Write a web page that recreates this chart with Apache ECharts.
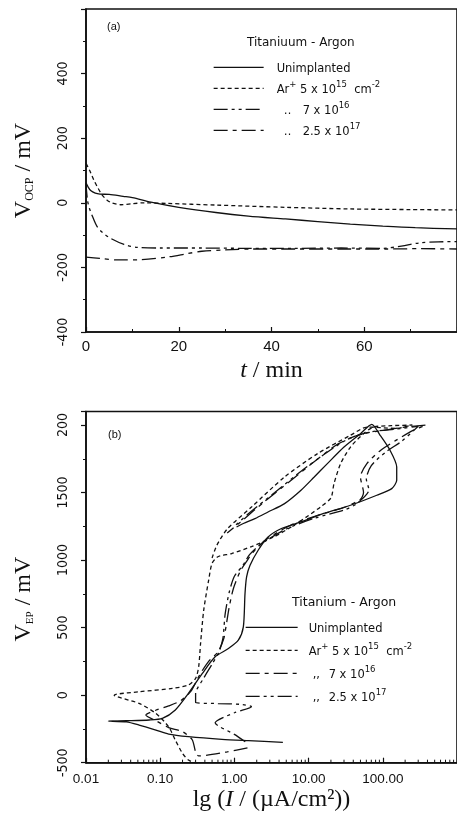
<!DOCTYPE html>
<html><head><meta charset="utf-8">
<script src="https://cdn.jsdelivr.net/npm/echarts@6/dist/echarts.min.js"></script>
<style>html,body{margin:0;padding:0;background:#fff;}#c{width:457px;height:826px;}</style>
</head><body><div id="c"></div>
<script>
// ---------- Panel (a): open-circuit potential vs time ----------
const aUnimplanted = [[0,62],[0.5,48],[1,38],[2,30],[3,27],[5,26],[8,20],[10,16],[14,2],[20,-14],[28,-30],[35,-41],[43,-50],[50,-58],[57,-66],[64,-72],[71,-77],[80,-81]];
const aAr5e15 = [[0,122],[0.8,100],[1.7,70],[2.6,45],[3.5,24],[4.5,9],[5.5,0],[7.5,-6],[10,-3],[12.5,0],[17.6,-2],[28,-7],[43,-14],[57,-19],[70,-21],[80,-22]];
const aAr7e16 = [[0,60],[0.3,10],[0.7,-15],[1.2,-35],[2.4,-74],[3.8,-95],[5.3,-110],[8.2,-129],[11,-138],[16,-140],[25,-140],[35,-141],[45,-141],[55,-140],[64,-141],[68,-134],[72,-124],[76,-121],[80,-120]];
const aAr25e17 = [[0,-168],[3,-172],[7,-177],[12,-176],[17.5,-168],[22,-157],[25,-150],[30,-146],[36,-143],[45,-143],[55,-143],[65,-143],[72,-142],[80,-143]];

// ---------- Panel (b): cyclic polarisation, [I (uA/cm2), V (mV)] ----------
const bUnimplanted = [[4.5,-349],[1.54,-337],[0.68,-327],[0.24,-307],[0.13,-288],[0.0875,-258],[0.052,-221],[0.035,-198],[0.02,-192],[0.035,-189],[0.071,-184],[0.107,-172],[0.16,-110],[0.24,13],[0.37,161],[0.55,284],[0.83,345],[1.13,407],[1.32,506],[1.39,752],[1.46,875],[1.62,960],[2.09,1073],[2.84,1171],[4.3,1234],[7.9,1283],[16,1345],[36.7,1406],[83,1480],[132,1529],[154,1591],[154,1689],[125,1813],[92,1924],[71,2005],[50,1936],[30,1837],[17.9,1714],[11.9,1615],[7.9,1517],[4.74,1418],[2.84,1356],[1.89,1307],[1.32,1271],[1.07,1245]];
const bAr5e15 = [[2.2,-540],[1.3,-515],[0.8,-530],[0.5,-520],[0.33,-510],[0.24,-480],[0.2,-431],[0.16,-333],[0.13,-234],[0.0875,-135],[0.052,-61],[0.024,0],[0.052,25],[0.146,50],[0.24,75],[0.30,124],[0.33,210],[0.35,383],[0.386,630],[0.45,852],[0.5,975],[0.6,1025],[0.92,1048],[1.7,1100],[3.5,1175],[6,1250],[10,1330],[15,1400],[20,1460],[22,1566],[27,1714],[36.7,1837],[55,1936],[75,1985],[130,1995],[250,2000],[150,1975],[62,1985],[36.7,1924],[13.2,1788],[4.74,1615],[1.7,1393],[0.8,1230],[0.58,1110],[0.5,1015]];
const bAr7e16 = [[1.5,-390],[0.8,-420],[0.33,-450],[0.3,-420],[0.27,-330],[0.2,-270],[0.13,-240],[0.088,-190],[0.064,-147],[0.088,-110],[0.13,-80],[0.19,-40],[0.26,30],[0.34,150],[0.45,250],[0.6,320],[0.72,420],[0.77,506],[0.85,650],[0.97,790],[1.2,918],[1.5,1000],[1.8,1060],[2.6,1147],[5.8,1260],[13,1330],[30,1390],[50,1450],[55,1500],[50,1615],[61,1714],[93,1812],[150,1886],[256,1960],[386,2000],[200,1985],[100,1960],[50,1930],[25,1860],[12,1730],[5.5,1580],[2.5,1430],[1.2,1280],[0.8,1200]];
const bAr25e17 = [[1.4,-345],[1.0,-290],[0.55,-205],[1.0,-130],[1.7,-85],[1.2,-68],[0.6,-62],[0.3,-55],[0.3,13],[0.38,120],[0.5,230],[0.62,320],[0.7,420],[0.75,600],[0.85,760],[1.0,880],[1.3,960],[1.6,1040],[2.3,1120],[5,1230],[12,1310],[30,1370],[45,1420],[65,1520],[60,1600],[70,1700],[110,1800],[180,1880],[300,1990],[150,1970],[70,1950],[35,1900],[18,1800],[8,1660],[3.5,1500],[1.6,1350],[1.0,1250]];

// ---------- tick labels / legend texts ----------
const aXTicks = [0,20,40,60];
const aYTicks = [-400,-200,0,200,400];
const bXTickLabels = {'0.01':'0.01','0.1':'0.10','1':'1.00','10':'10.00','100':'100.00'};
const bYTicks = [-500,0,500,1000,1500,2000];
const bYTickLabels = ['-500','0','500','1000','1500','200'];
const bMinorMultipliers = [2,3,4,5,6,7,8,9];
const bDecades = [0.01,0.1,1,10,100];
const legendNamesA = ['aU','a15','a16','a17'];
const legendTextA = ['{n|Unimplanted}','{n|Ar}{s|+}{n| 5 x 10}{s|15}{n|  cm}{s|-2}','{d|‥}{n|7 x 10}{s|16}','{d|‥}{n|2.5 x 10}{s|17}'];
const legendNamesB = ['bU','b15','b16','b17'];
const legendTextB = ['{n|Unimplanted}','{n|Ar}{s|+}{n| 5 x 10}{s|15}{n|  cm}{s|-2}','{d|,,}{n|7 x 10}{s|16}','{d|,,}{n|2.5 x 10}{s|17}'];

const INK = '#111';
const SANS = 'Liberation Sans, Arial, sans-serif';
const NARROW = 'Liberation Sans Narrow, DejaVu Sans Condensed, Liberation Sans, sans-serif';
const SERIF = 'Liberation Serif, Times New Roman, serif';
const LEG = 'DejaVu Sans, sans-serif';

const legendRich = (dW, dPad) => ({
  n: {fontFamily: LEG, fontSize: 11.5, color: INK, lineHeight: 16, verticalAlign: 'bottom'},
  s: {fontFamily: LEG, fontSize: 8.5, color: INK, lineHeight: 6, verticalAlign: 'top'},
  d: {fontFamily: LEG, fontSize: 11.5, color: INK, lineHeight: 16, verticalAlign: 'bottom', width: dW, padding: [0,0,0,dPad]}
});

const dashShort = [4,3];
const dashA16 = [14,4,3,4,3,4];
const dashA17 = [14,5,4,5];
const dashB16 = [14,5,4,5];
const dashB17 = [14,4,3,4,3,4];

function lineSeries(name, data, xi, dash, smooth) {
  return {
    name, type: 'line', data, xAxisIndex: xi, yAxisIndex: xi,
    symbol: 'none', smooth: smooth, clip: true, silent: true,
    lineStyle: {color: INK, width: 1.3, type: dash},
    itemStyle: {color: INK}
  };
}

const minorTickData = [];
bDecades.forEach(d => bMinorMultipliers.forEach(m => minorTickData.push([d*m, -500])));

const axisLineStyle = {onZero: false, lineStyle: {color: INK, width: 1.6}};

const option = {
  animation: false,
  backgroundColor: '#fff',
  title: [
    {text: '(a)', left: 107, top: 21, padding: 0, textStyle: {fontFamily: SANS, fontSize: 11, fontWeight: 'normal', color: INK}},
    {text: 'Titaniuum - Argon', left: 247, top: 37, padding: 0, textStyle: {fontFamily: LEG, fontSize: 12, fontWeight: 'normal', color: INK}},
    {text: '(b)', left: 108, top: 429, padding: 0, textStyle: {fontFamily: SANS, fontSize: 11, fontWeight: 'normal', color: INK}},
    {text: 'Titanium - Argon', left: 292, top: 596, padding: 0, textStyle: {fontFamily: LEG, fontSize: 12.5, fontWeight: 'normal', color: INK}}
  ],
  legend: [
    {data: legendNamesA, orient: 'vertical', left: 213, top: 61, padding: 0, itemGap: 5,
     itemWidth: 50, itemHeight: 16, selectedMode: false,
     itemStyle: {opacity: 0}, lineStyle: {width: 1.3},
     formatter: n => legendTextA[legendNamesA.indexOf(n)],
     textStyle: {padding: [0,0,0,8], rich: legendRich(19, 7)}},
    {data: legendNamesB, orient: 'vertical', left: 245, top: 621, padding: 0, itemGap: 7,
     itemWidth: 52, itemHeight: 16, selectedMode: false,
     itemStyle: {opacity: 0}, lineStyle: {width: 1.3},
     formatter: n => legendTextB[legendNamesB.indexOf(n)],
     textStyle: {padding: [0,0,0,6], rich: legendRich(16, 4)}}
  ],
  grid: [
    {left: 86, top: 9, width: 372, height: 323, show: true, borderColor: INK, borderWidth: 1.6, backgroundColor: 'transparent', containLabel: false},
    {left: 86, top: 411.5, width: 375, height: 351.2, show: true, borderColor: INK, borderWidth: 1.6, backgroundColor: 'transparent', containLabel: false}
  ],
  xAxis: [
    {type: 'value', gridIndex: 0, min: 0, max: 80, interval: 20,
     axisLine: axisLineStyle, splitLine: {show: false},
     axisTick: {inside: true, length: 5, lineStyle: {color: INK, width: 1.2}},
     minorTick: {show: true, splitNumber: 2, length: 3, lineStyle: {color: INK, width: 1}},
     axisLabel: {margin: 7, fontFamily: SANS, fontSize: 15, color: INK, showMaxLabel: false,
       formatter: v => aXTicks.indexOf(v) >= 0 ? String(v) : ''},
     name: '{i|t}{r| / min}', nameLocation: 'middle', nameGap: 27,
     nameTextStyle: {rich: {i: {fontFamily: SERIF, fontStyle: 'italic', fontSize: 24, color: INK}, r: {fontFamily: SERIF, fontSize: 24, color: INK}}}},
    {type: 'log', logBase: 10, gridIndex: 1, min: 0.01, max: 1000,
     axisLine: axisLineStyle, splitLine: {show: false},
     axisTick: {inside: true, length: 5, lineStyle: {color: INK, width: 1.2}},
     axisLabel: {margin: 10, fontFamily: SANS, fontSize: 13.5, color: INK, showMaxLabel: false,
       formatter: v => { const k = String(+v.toPrecision(6)); return bXTickLabels[k] !== undefined ? bXTickLabels[k] : ''; }},
     name: '{t|lg (}{i|I}{t| / (µA/cm²))}', nameLocation: 'middle', nameGap: 9,
     nameTextStyle: {rich: {i: {fontFamily: SERIF, fontStyle: 'italic', fontSize: 24, color: INK}, t: {fontFamily: SERIF, fontSize: 24, color: INK}}}}
  ],
  yAxis: [
    {type: 'value', gridIndex: 0, min: -400, max: 600, interval: 200,
     axisLine: axisLineStyle, splitLine: {show: false},
     axisTick: {inside: false, length: 5, lineStyle: {color: INK, width: 1.2}},
     minorTick: {show: true, splitNumber: 2, length: 3, lineStyle: {color: INK, width: 1}},
     axisLabel: {rotate: 90, margin: 16, fontFamily: NARROW, fontSize: 14, color: INK, showMaxLabel: false,
       formatter: v => aYTicks.indexOf(v) >= 0 ? String(v) : ''},
     name: '{v|V}{s|OCP}{v| / mV}', nameLocation: 'middle', nameGap: 50,
     nameTextStyle: {rich: {v: {fontFamily: SERIF, fontSize: 24, color: INK, lineHeight: 26, verticalAlign: 'bottom'}, s: {fontFamily: SERIF, fontSize: 12, color: INK, lineHeight: 14, verticalAlign: 'bottom'}}}},
    {type: 'value', gridIndex: 1, min: -500, max: 2100, interval: 500,
     axisLine: axisLineStyle, splitLine: {show: false},
     axisTick: {inside: false, length: 5, lineStyle: {color: INK, width: 1.2}},
     minorTick: {show: true, splitNumber: 2, length: 3, lineStyle: {color: INK, width: 1}},
     axisLabel: {rotate: 90, margin: 16, fontFamily: NARROW, fontSize: 14, color: INK, showMaxLabel: false,
       formatter: v => { const i = bYTicks.indexOf(v); return i >= 0 ? bYTickLabels[i] : ''; }},
     name: '{v|V}{s|EP}{v| / mV}', nameLocation: 'middle', nameGap: 50,
     nameTextStyle: {padding: [0,24,0,0], rich: {v: {fontFamily: SERIF, fontSize: 24, color: INK, lineHeight: 26, verticalAlign: 'bottom'}, s: {fontFamily: SERIF, fontSize: 11, color: INK, lineHeight: 14, verticalAlign: 'bottom'}}}}
  ],
  series: [
    lineSeries('aU', aUnimplanted, 0, 'solid', 0.3),
    lineSeries('a15', aAr5e15, 0, dashShort, 0.3),
    lineSeries('a16', aAr7e16, 0, dashA16, 0.3),
    lineSeries('a17', aAr25e17, 0, dashA17, 0.3),
    lineSeries('bU', bUnimplanted, 1, 'solid', 0.25),
    lineSeries('b15', bAr5e15, 1, dashShort, 0.25),
    lineSeries('b16', bAr7e16, 1, dashB16, 0.25),
    lineSeries('b17', bAr25e17, 1, dashB17, 0.25),
    {type: 'custom', xAxisIndex: 1, yAxisIndex: 1, silent: true, clip: false, data: minorTickData,
     renderItem: (params, api) => {
       const p = api.coord([api.value(0), api.value(1)]);
       return {type: 'line', shape: {x1: p[0], y1: p[1], x2: p[0], y2: p[1] - 3}, style: {stroke: INK, lineWidth: 1}};
     }}
  ]
};
const chart = echarts.init(document.getElementById('c'), null, {renderer: 'canvas'});
chart.setOption(option);
</script></body></html>
